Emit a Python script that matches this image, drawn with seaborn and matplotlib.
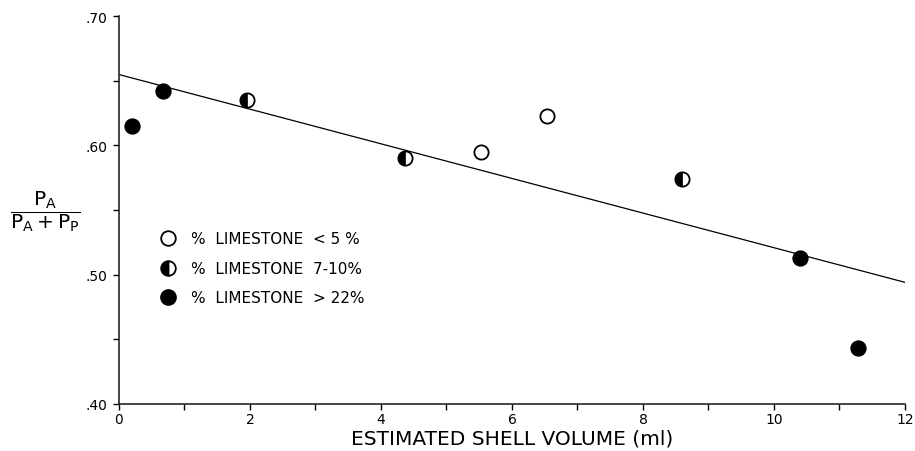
import pandas as pd
import matplotlib
matplotlib.use("Agg")
import matplotlib.pyplot as plt
import seaborn as sns
from matplotlib.lines import Line2D
from matplotlib.markers import MarkerStyle
from matplotlib.ticker import FuncFormatter, MultipleLocator

# data
vol_open = [5.52, 6.54]
ratio_open = [0.595, 0.623]
vol_half = [1.96, 4.37, 8.59]
ratio_half = [0.635, 0.590, 0.574]
vol_filled = [0.20, 0.68, 10.40, 11.29]
ratio_filled = [0.615, 0.642, 0.513, 0.443]

legend_labels = ['%  LIMESTONE  < 5 %', '%  LIMESTONE  7-10%', '%  LIMESTONE  > 22%']

df = pd.DataFrame({
    'vol': vol_open + vol_half + vol_filled,
    'ratio': ratio_open + ratio_half + ratio_filled,
    'group': ['open'] * len(vol_open) + ['half'] * len(vol_half) + ['filled'] * len(vol_filled),
})

sns.set_style('ticks')
plt.rcParams['font.family'] = ['DejaVu Sans']
plt.rcParams['mathtext.fontset'] = 'dejavusans'
plt.rcParams['text.color'] = 'black'
plt.rcParams['axes.labelcolor'] = 'black'

fig = plt.figure(figsize=(9.15, 4.52), dpi=100)
ax = fig.add_axes([0.130, 0.104, 0.859, 0.858])
ax.set_xlim(0, 12)
ax.set_ylim(0.40, 0.70)

# fitted line over the whole range
sns.regplot(data=df, x='vol', y='ratio', scatter=False, ci=None, truncate=False,
            line_kws={'color': 'black', 'lw': 0.9}, ax=ax)

# white circles for open + half-filled points
sns.scatterplot(data=df[df.group != 'filled'], x='vol', y='ratio', s=105,
                color='white', edgecolor='black', linewidth=1.3, ax=ax, zorder=3)
# left half black for the 7-10% group
sns.scatterplot(data=df[df.group == 'half'], x='vol', y='ratio', s=105,
                marker=MarkerStyle('o', fillstyle='left'), color='black',
                edgecolor='black', linewidth=0.5, ax=ax, zorder=4)
# solid dots
sns.scatterplot(data=df[df.group == 'filled'], x='vol', y='ratio', s=115,
                color='black', edgecolor='black', linewidth=1.0, ax=ax, zorder=3)

sns.despine(ax=ax)
ax.spines['left'].set_linewidth(1.2)
ax.spines['bottom'].set_linewidth(1.2)

ax.xaxis.set_major_locator(MultipleLocator(2))
ax.xaxis.set_minor_locator(MultipleLocator(1))
ax.yaxis.set_major_locator(MultipleLocator(0.1))
ax.yaxis.set_minor_locator(MultipleLocator(0.05))
ax.yaxis.set_major_formatter(FuncFormatter(lambda v, pos: ('%.2f' % v).lstrip('0')))
ax.tick_params(which='both', direction='out', width=1.0, colors='black', labelsize=10)
ax.tick_params(which='major', length=4.5)
ax.tick_params(which='minor', length=4)
ax.tick_params(axis='x', pad=1)

ax.set_xlabel('ESTIMATED SHELL VOLUME (ml)', fontsize=14.5, va='center')
ax.xaxis.set_label_coords(0.5, -0.088)
ax.set_ylabel('')

fig.text(0.050, 0.533, r'$\mathsf{\dfrac{P_A}{P_A + P_P}}$', fontsize=14.5,
         ha='center', va='center')

handles = [
    Line2D([], [], ls='none', marker='o', markersize=10.5, markerfacecolor='white',
           markeredgecolor='black', markeredgewidth=1.3),
    Line2D([], [], ls='none', marker='o', markersize=10.5, fillstyle='left',
           markerfacecolor='black', markerfacecoloralt='white',
           markeredgecolor='black', markeredgewidth=1.3),
    Line2D([], [], ls='none', marker='o', markersize=11, markerfacecolor='black',
           markeredgecolor='black'),
]
ax.legend(handles, legend_labels, loc='upper left', bbox_to_anchor=(0.053, 0.445),
          frameon=False, handlelength=0.95, handletextpad=1.05, labelspacing=0.95,
          borderpad=0, borderaxespad=0, prop={'size': 11})

fig.savefig('out.png', dpi=100)
